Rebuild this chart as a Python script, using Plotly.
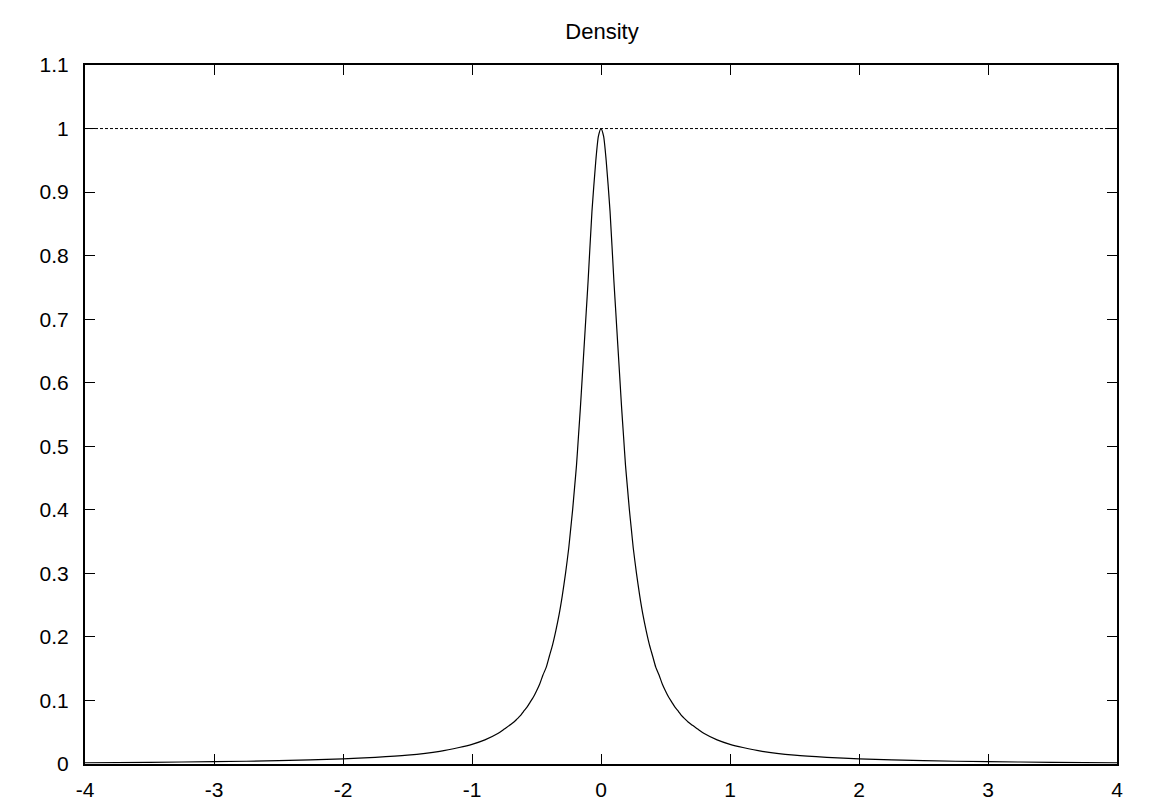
"""
Density curve, gnuplot-style frame
"""

import plotly.graph_objects as go

# curve values (right half; the curve is symmetric)
x_right = [0, 0.02, 0.04, 0.07, 0.1, 0.115, 0.13, 0.145, 0.16, 0.175, 0.19,
           0.205, 0.22, 0.235, 0.25, 0.275, 0.3, 0.325, 0.35, 0.375, 0.4,
           0.425, 0.45, 0.475, 0.5, 0.525, 0.55, 0.575, 0.6, 0.625, 0.65,
           0.675, 0.7, 0.75, 0.8, 0.9, 1, 1.1, 1.25, 1.5, 1.75, 2, 2.5, 3,
           3.5, 4]
y_right = [1.0, 0.988, 0.95, 0.87, 0.76, 0.71, 0.66, 0.61, 0.56, 0.515, 0.47,
           0.435, 0.40, 0.37, 0.34, 0.30, 0.265, 0.235, 0.21, 0.188, 0.17,
           0.152, 0.14, 0.126, 0.115, 0.105, 0.097, 0.089, 0.083, 0.076,
           0.071, 0.066, 0.062, 0.055, 0.048, 0.038, 0.031, 0.026, 0.020,
           0.014, 0.0105, 0.008, 0.0052, 0.0036, 0.0027, 0.002]

x_vals = [-v for v in reversed(x_right[1:])] + x_right
y_vals = list(reversed(y_right[1:])) + y_right

# reference level
ref_x = [-4, 4]
ref_y = [1, 1]

x_ticks = [-4, -3, -2, -1, 0, 1, 2, 3, 4]
x_tick_labels = ["-4", "-3", "-2", "-1", "0", "1", "2", "3", "4"]
y_ticks = [0, 0.1, 0.2, 0.3, 0.4, 0.5, 0.6, 0.7, 0.8, 0.9, 1, 1.1]
y_tick_labels = ["0", "0.1", "0.2", "0.3", "0.4", "0.5", "0.6", "0.7",
                 "0.8", "0.9", "1", "1.1"]

FONT = "Liberation Sans, Arial, sans-serif"

fig = go.Figure()

# dashed line at 1
fig.add_trace(go.Scatter(
    x=ref_x, y=ref_y, mode="lines",
    line=dict(color="black", width=1, dash="3px,2px"),
    hoverinfo="skip"
))

# density curve
fig.add_trace(go.Scatter(
    x=x_vals, y=y_vals, mode="lines",
    line=dict(color="black", width=1.2, shape="spline", smoothing=0.6)
))

axis_style = dict(
    showline=True, linecolor="black", linewidth=2, mirror="ticks",
    ticks="inside", ticklen=10, tickwidth=1, tickcolor="black",
    showgrid=False, zeroline=False, automargin=False,
    tickfont=dict(family=FONT, size=21, color="black"),
)

fig.update_xaxes(range=[-4, 4], tickvals=x_ticks, ticktext=x_tick_labels,
                 ticklabelstandoff=6, **axis_style)
fig.update_yaxes(range=[0, 1.1], tickvals=y_ticks, ticktext=y_tick_labels,
                 ticklabelstandoff=10, **axis_style)

# page body adds an 8px offset, so the canvas is 8px smaller
fig.update_layout(
    width=1147, height=799,
    margin=dict(l=77, r=38, t=57, b=43),
    plot_bgcolor="white", paper_bgcolor="white",
    showlegend=False,
    title=dict(text="Density", x=594 / 1147, xanchor="center",
               y=1 - 23 / 799, yanchor="middle", yref="container",
               font=dict(family=FONT, size=22, color="black")),
)

fig.write_html("out.html")
